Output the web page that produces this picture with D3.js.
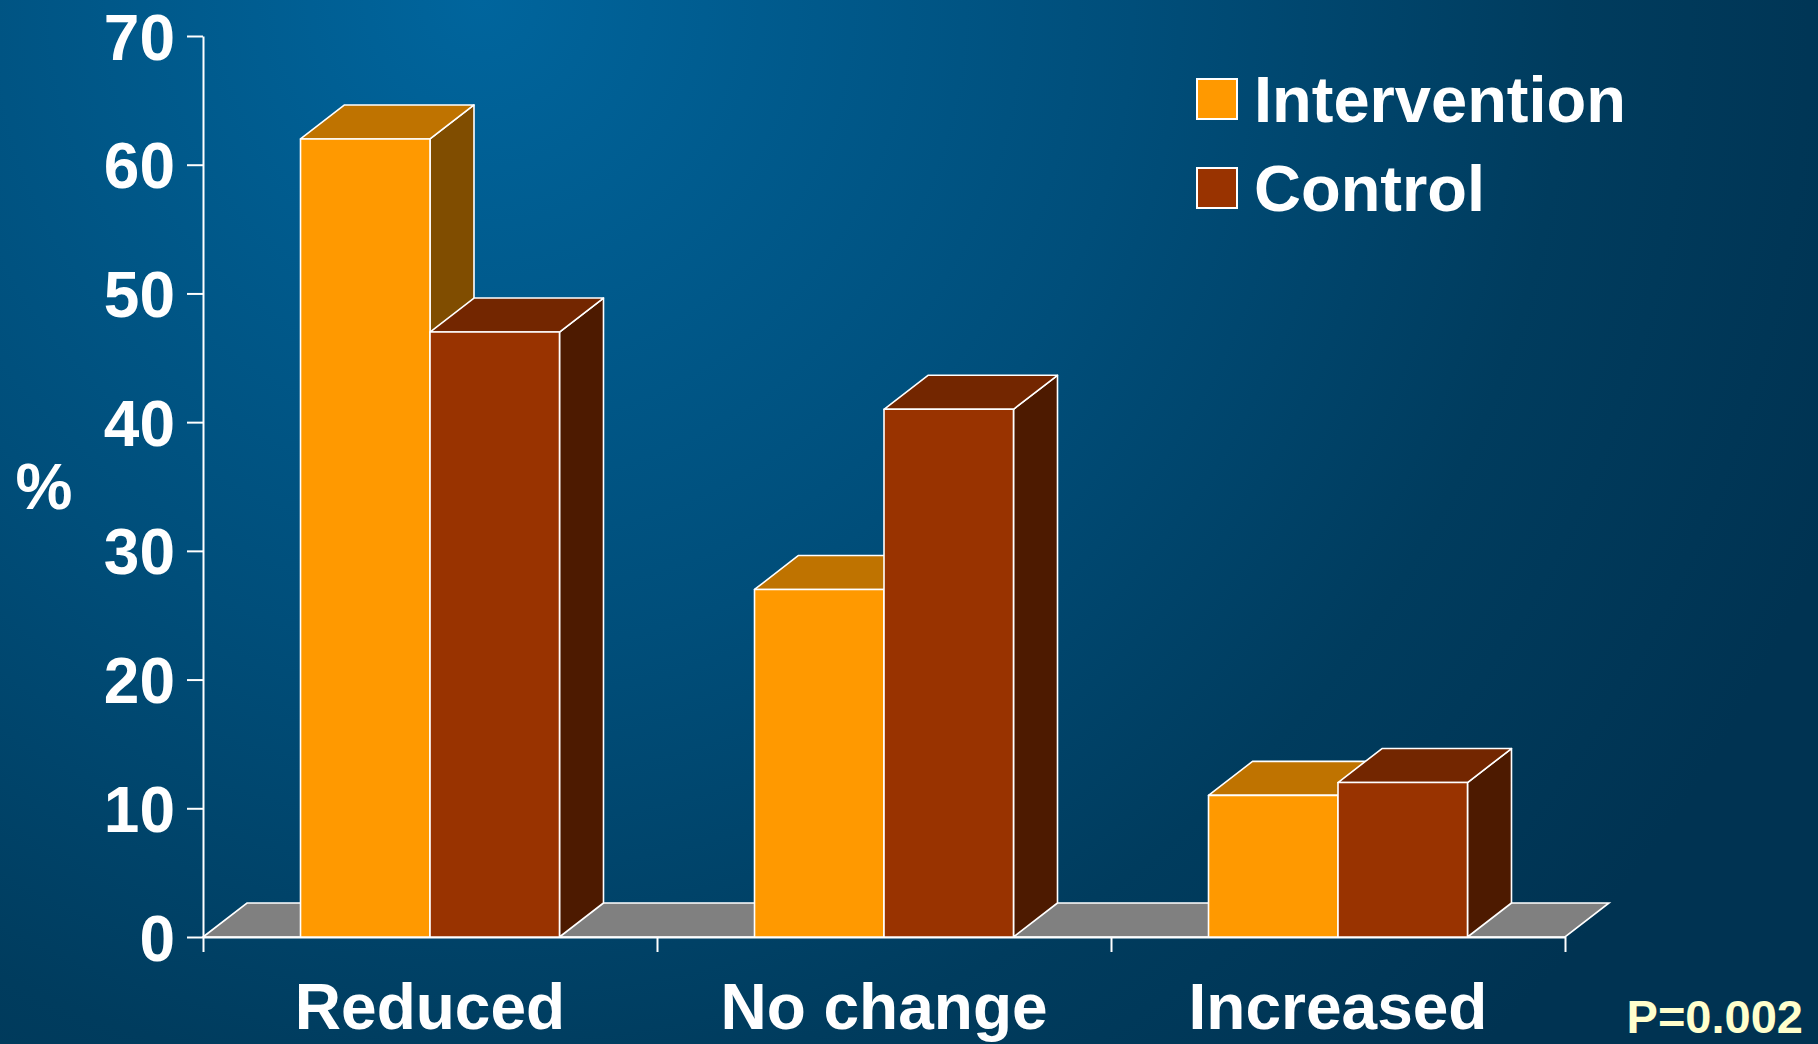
<!DOCTYPE html>
<html>
<head>
<meta charset="utf-8">
<script src="https://cdn.jsdelivr.net/npm/d3@7"></script>
<style>
    html, body { margin: 0; padding: 0; overflow: hidden; }
    svg { display: block; font-family: "Liberation Sans", Arial, sans-serif; font-weight: bold; }
</style>
</head>
<body>
<div id="chart"></div>
<script>
// data
var categories = ["Reduced", "No change", "Increased"]
var seriesNames = ["Intervention", "Control"]
var interventionValues = [62, 27, 11]
var controlValues = [47, 41, 12]
var yTicks = [0, 10, 20, 30, 40, 50, 60, 70]
var pValueText = "P=0.002"

var width = 1818, height = 1044
var margin = { left: 203, right: 253, top: 36, bottom: 107 }
var depthX = 44, depthY = 34

var colors = {
    "Intervention": { front: "#FF9900", top: "#BF7300", side: "#804D00" },
    "Control": { front: "#993300", top: "#732600", side: "#4D1A00" }
}

function drawChart() {
    var svg = d3.select('#chart').append('svg')
        .attr('width', width)
        .attr('height', height)

    //background gradient, light at top left, dark to the right and bottom
    var defs = svg.append('defs')
    var grad = defs.append('radialGradient')
        .attr('id', 'bg')
        .attr('gradientUnits', 'userSpaceOnUse')
        .attr('cx', 480).attr('cy', 0).attr('r', 1450)
    grad.append('stop').attr('offset', 0).attr('stop-color', '#00659D')
    grad.append('stop').attr('offset', 0.45).attr('stop-color', '#004E7A')
    grad.append('stop').attr('offset', 0.75).attr('stop-color', '#003C5E')
    grad.append('stop').attr('offset', 1).attr('stop-color', '#003352')
    svg.append('rect').attr('width', width).attr('height', height).attr('fill', 'url(#bg)')

    var plotLeft = margin.left, plotRight = width - margin.right
    var plotTop = margin.top, plotBottom = height - margin.bottom

    var y = d3.scaleLinear().domain([0, 70]).range([plotBottom, plotTop])
    var x0 = d3.scaleBand().domain(categories).range([plotLeft, plotRight]).padding(0)
    var x1 = d3.scaleBand().domain(seriesNames).range([0, x0.bandwidth()])
        .paddingInner(0).paddingOuter(0.753)

    var rows = categories.map(function (c, i) {
        return { category: c, values: [
            { name: "Intervention", value: interventionValues[i] },
            { name: "Control", value: controlValues[i] }
        ] }
    })

    //grey floor under the bars
    var y0 = y(0)
    svg.append('polygon')
        .attr('points', [
            [plotLeft, y0], [plotLeft + depthX, y0 - depthY],
            [plotRight + depthX, y0 - depthY], [plotRight, y0]
        ].join(' '))
        .attr('fill', '#808080')
        .attr('stroke', '#fff')
        .attr('stroke-width', 1.6)

    //y axis
    var yAxis = svg.append('g')
        .attr('transform', 'translate(' + plotLeft + ',0)')
        .call(d3.axisLeft(y).tickValues(yTicks).tickSize(16).tickSizeOuter(0).tickPadding(12))
    yAxis.selectAll('path, line').attr('stroke', '#fff').attr('stroke-width', 2)
    yAxis.selectAll('text')
        .attr('fill', '#fff')
        .attr('font-size', 64)
        .attr('font-family', '"Liberation Sans", Arial, sans-serif')
        .attr('font-weight', 'bold')
        .attr('dy', '0.36em')

    //x axis: ticks sit on the category boundaries
    var xBound = d3.scaleLinear().domain([0, categories.length]).range([plotLeft, plotRight])
    var xAxis = svg.append('g')
        .attr('transform', 'translate(0,' + y0 + ')')
        .call(d3.axisBottom(xBound).tickValues(d3.range(categories.length + 1))
            .tickSize(15).tickSizeOuter(0).tickFormat(''))
    xAxis.selectAll('path, line').attr('stroke', '#fff').attr('stroke-width', 2)

    svg.append('g').selectAll('text')
        .data(categories)
        .join('text')
        .attr('x', function (d) { return x0(d) + x0.bandwidth() / 2 })
        .attr('y', 1029)
        .attr('text-anchor', 'middle')
        .attr('fill', '#fff')
        .attr('font-size', 64)
        .text(function (d) { return d })

    //3d bars: front, top, side
    rows.forEach(function (row) {
        row.values.forEach(function (v) {
            var left = x0(row.category) + x1(v.name)
            var right = left + x1.bandwidth()
            var top = y(v.value)
            var c = colors[v.name]
            var g = svg.append('g').attr('stroke', '#fff').attr('stroke-width', 1.6).attr('stroke-linejoin', 'round')
            g.append('polygon')
                .attr('points', [[right, top], [right + depthX, top - depthY], [right + depthX, y0 - depthY], [right, y0]].join(' '))
                .attr('fill', c.side)
            g.append('polygon')
                .attr('points', [[left, top], [left + depthX, top - depthY], [right + depthX, top - depthY], [right, top]].join(' '))
                .attr('fill', c.top)
            g.append('rect')
                .attr('x', left).attr('y', top)
                .attr('width', x1.bandwidth()).attr('height', y0 - top)
                .attr('fill', c.front)
        })
    })

    //y title
    svg.append('text')
        .attr('x', 44).attr('y', 509)
        .attr('text-anchor', 'middle')
        .attr('fill', '#fff')
        .attr('font-size', 64)
        .text('%')

    //legend
    var legend = svg.append('g').attr('transform', 'translate(1197,79)')
    var item = legend.selectAll('g')
        .data(seriesNames)
        .join('g')
        .attr('transform', function (d, i) { return 'translate(0,' + (i * 89) + ')' })
    item.append('rect')
        .attr('width', 40).attr('height', 40)
        .attr('fill', function (d) { return colors[d].front })
        .attr('stroke', '#fff').attr('stroke-width', 2)
    item.append('text')
        .attr('x', 57).attr('y', 43)
        .attr('fill', '#fff')
        .attr('font-size', 65)
        .text(function (d) { return d })

    //p value note
    svg.append('text')
        .attr('x', 1803).attr('y', 1033)
        .attr('text-anchor', 'end')
        .attr('fill', '#FFFFCC')
        .attr('font-size', 47)
        .text(pValueText)
}

drawChart()
</script>
</body>
</html>
